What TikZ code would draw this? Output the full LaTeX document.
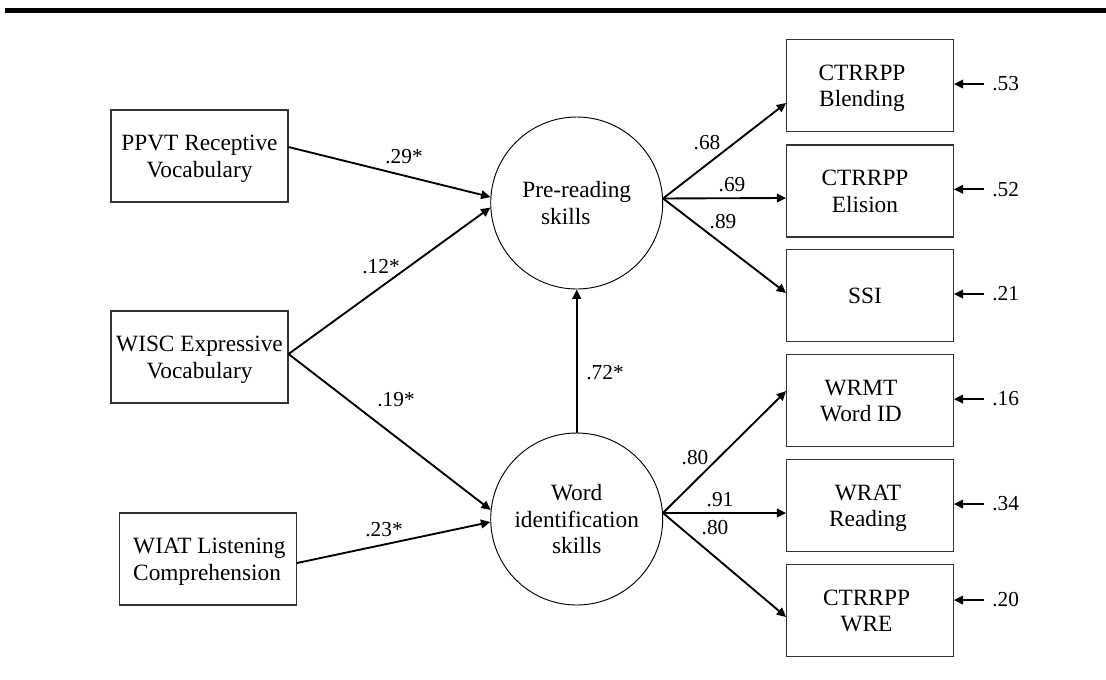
\documentclass[tikz,border=0pt]{standalone}
\usepackage{fontspec}
\setmainfont{Liberation Serif}
\usetikzlibrary{arrows.meta}
\begin{document}
\begin{tikzpicture}[x=0.75pt,y=-0.75pt,
  lbox/.style={draw=black!80,line width=0.8pt,minimum width=132.75pt,minimum height=69pt,inner sep=0pt,align=center,text depth=0pt,font=\fontsize{17.5}{20}\selectfont},
  rbox/.style={draw=black!80,line width=0.8pt,minimum width=125pt,minimum height=69pt,inner sep=0pt},
  btxt/.style={align=center,inner sep=0pt,text depth=0pt,font=\fontsize{17.5}{20}\selectfont},
  latent/.style={circle,draw,line width=0.7pt,minimum size=129pt,inner sep=0pt,align=center,text depth=0pt,font=\fontsize{17.5}{20}\selectfont},
  arr/.style={line width=1.4pt,-{Triangle[length=7pt,width=6.5pt]}},
  coef/.style={inner sep=0pt,font=\fontsize{16}{19}\selectfont}]
\useasboundingbox (0,0) rectangle (1106,679);
\fill (5,8) rectangle (1106,13);

% exogenous boxes
\node[lbox] (ppvt) at (199.5,156) {PPVT Receptive\\Vocabulary};
\node[lbox] (wisc) at (199.5,357) {WISC Expressive\\Vocabulary};
\node[lbox] (wiat) at (208,559) {};
\node[btxt,align=left,anchor=west] (wiatT) at ([xshift=10.5pt]wiat.west) {WIAT Listening\\Comprehension};

% latent variables
\node[latent] (pre) at (576.7,203) {Pre-reading\\skills\hspace{16.5pt}\mbox{}};
\node[latent] (word) at (576.7,519) {Word\\identification\\skills};

% indicator boxes
\node[rbox] (blend) at (870,85.8) {};
\node[btxt] (blendT) at ([xshift=-6pt]blend.center) {CTRRPP\\Blending};
\node[rbox] (elis) at (870,191) {};
\node[btxt] (elisT) at ([xshift=-3.75pt]elis.center) {CTRRPP\\Elision};
\node[rbox] (ssi) at (870,295.8) {};
\node[btxt] (ssiT) at ([xshift=-3.75pt]ssi.center) {SSI};
\node[rbox] (wrmt) at (870,400.8) {};
\node[btxt] (wrmtT) at ([xshift=-6.75pt]wrmt.center) {WRMT\\Word ID};
\node[rbox] (wrat) at (870,505.8) {};
\node[btxt] (wratT) at ([xshift=-1.5pt]wrat.center) {WRAT\\Reading};
\node[rbox] (wre) at (870,610.8) {};
\node[btxt] (wreT) at ([xshift=-2.6pt]wre.center) {CTRRPP\\WRE};

% structural paths
\draw[arr] (ppvt.east |- 0,147) -- (pre.176);
\draw[arr] (wisc.east |- 0,354) -- (pre.183);
\draw[arr] (wisc.east |- 0,354) -- (word.174);
\draw[arr] (wiat.east |- 0,563) -- (word.182);
\draw[arr] (word.north) -- (pre.south);

% loadings
\draw[arr] (pre.3) -- (blend.west |- 0,103);
\draw[arr] (pre.3) -- (elis.west |- 0,198);
\draw[arr] (pre.3) -- (ssi.west |- 0,293);
\draw[arr] (word.4) -- (wrmt.west |- 0,391);
\draw[arr] (word.4) -- (wrat.west |- 0,513);
\draw[arr] (word.4) -- (wre.west |- 0,617);

% coefficients
\node[coef] (c29) at (404,157) {.29*};
\node[coef] (c12) at (381,267) {.12*};
\node[coef] (c19) at (396,400) {.19*};
\node[coef] (c23) at (384,530) {.23*};
\node[coef] (c72) at (605,373) {.72*};
\node[coef] (c68) at (707,143) {.68};
\node[coef] (c69) at (732,185) {.69};
\node[coef] (c89) at (723,222) {.89};
\node[coef] (c80a) at (695,458) {.80};
\node[coef] (c91) at (720,500) {.91};
\node[coef] (c80b) at (715,528) {.80};

% residuals
\node[coef,anchor=west] (r1) at (992,84) {.53};
\node[coef,anchor=west] (r2) at (992,189.3) {.52};
\node[coef,anchor=west] (r3) at (992,294) {.21};
\node[coef,anchor=west] (r4) at (992,399) {.16};
\node[coef,anchor=west] (r5) at (992,504) {.34};
\node[coef,anchor=west] (r6) at (992,600) {.20};
\draw[arr] ([xshift=-6pt]r1.west) -- (blend.east |- r1.west);
\draw[arr] ([xshift=-6pt]r2.west) -- (elis.east |- r2.west);
\draw[arr] ([xshift=-6pt]r3.west) -- (ssi.east |- r3.west);
\draw[arr] ([xshift=-6pt]r4.west) -- (wrmt.east |- r4.west);
\draw[arr] ([xshift=-6pt]r5.west) -- (wrat.east |- r5.west);
\draw[arr] ([xshift=-6pt]r6.west) -- (wre.east |- r6.west);
\end{tikzpicture}
\end{document}
